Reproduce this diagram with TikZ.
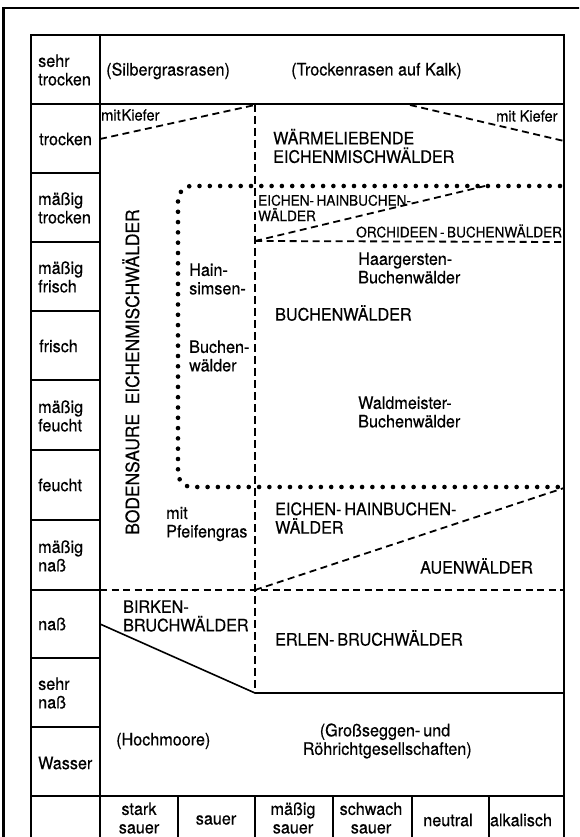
\documentclass[tikz,border=0pt]{standalone}
\usepackage{fontspec}
\setmainfont{TeX Gyre Heros}[FakeStretch=0.94,FakeBold=0.4]
\begin{document}
\begin{tikzpicture}[x=1pt,y=-1pt,
  txt/.style={inner sep=0pt,font=\fontsize{17.2}{18.5}\selectfont,align=left},
  lbl/.style={txt,anchor=west},
  ctr/.style={txt,align=center},
  sml/.style={inner sep=0pt,font=\fontsize{14.5}{15.5}\selectfont,align=left,anchor=west},
  frame/.style={line width=2.8pt},
  grid/.style={line width=1.4pt},
  dsh/.style={line width=1.8pt,dash pattern=on 7pt off 4.5pt},
  vdsh/.style={line width=1.5pt,dash pattern=on 8pt off 4pt},
  dots/.style={line width=4.6pt,line cap=round,dash pattern=on 0pt off 10.3pt,rounded corners=14pt},
  solidline/.style={line width=1.6pt}]
\useasboundingbox (0,0) rectangle (579,837);
\clip (0,0) rectangle (579,837);
\fill[white] (0,0) rectangle (579,837);
% outer frame
\coordinate (F0) at (3.5,8);
\coordinate (F1) at (600,8);
\coordinate (F2) at (3.5,860);
\draw[frame] (F1) -- (F0) -- (F2);
% table grid
\coordinate (T0) at (31,35);
\coordinate (T1) at (564,860);
\draw[grid] (31,860) -- (T0) -- (564,35) -- (T1);
\draw[grid] (100,35) -- (100,860);
\foreach \yy in {173,242,311,380,450,520,590,658,727} \draw[grid] (31,\yy) -- (100,\yy);
\draw[grid] (31,104) -- (564,104);
\draw[grid] (31,796) -- (564,796);
\foreach \xx in {178,255,333,412,489} \draw[grid] (\xx,796) -- (\xx,860);
% interior lines
\coordinate (V0) at (255,104);
\coordinate (V1) at (255,693);
\coordinate (KL0) at (100,139);
\coordinate (KL1) at (255,105);
\coordinate (KR0) at (410,105);
\coordinate (KR1) at (564,141);
\coordinate (O0) at (255,241);
\coordinate (O1) at (564,242);
\coordinate (O2) at (485,186);
\coordinate (N0) at (100,590);
\coordinate (N1) at (564,590);
\coordinate (N2) at (255,590);
\coordinate (A1) at (564,488);
\coordinate (B0) at (100,624);
\coordinate (B2) at (564,693);
\draw[dsh] (KL0) -- (KL1);
\draw[dsh] (KR0) -- (KR1);
\draw[vdsh] (V0) -- (V1);
\draw[dsh] (O0) -- (O1);
\draw[dsh] (O0) -- (O2);
\draw[dsh] (N0) -- (N1);
\draw[dsh] (N2) -- (A1);
\draw[solidline] (B0) -- (V1) -- (B2);
\coordinate (D0) at (560,186);
\coordinate (D1) at (178,186);
\coordinate (D2) at (178,487);
\coordinate (D3) at (560,487);
\draw[dots] (D0) -- (D1) -- (D2) -- (D3);
% left labels
\node[lbl] (r1) at (38,70) {sehr\\trocken};
\node[lbl] (r2) at (39,139) {trocken};
\node[lbl] (r3) at (38,208) {mäßig\\trocken};
\node[lbl] (r4) at (38,277) {mäßig\\frisch};
\node[lbl] (r5) at (39,346) {frisch};
\node[lbl] (r6) at (38,416) {mäßig\\feucht};
\node[lbl] (r7) at (38,485) {feucht};
\node[lbl] (r8) at (38,556) {mäßig\\naß};
\node[lbl] (r9) at (38,624) {naß};
\node[lbl] (r10) at (38,693) {sehr\\naß};
\node[lbl] (r11) at (38,763) {Wasser};
% bottom labels
\node[ctr] (c1) at (139,818) {stark\\sauer};
\node[ctr] (c2) at (216,820) {sauer};
\node[ctr] (c3) at (293,818) {mäßig\\sauer};
\node[ctr] (c4) at (371,818) {schwach\\sauer};
\node[ctr] (c5) at (448,820) {neutral};
\node[ctr] (c6) at (521,820) {alkalisch};
% region labels
\node[lbl] (silber) at (106,71) {(Silbergrasrasen)};
\node[lbl] (trocken) at (291,71) {(Trockenrasen auf Kalk)};
\node[sml,font=\fontsize{15.5}{16}\selectfont] (kl) at (101,115) {mit\hspace{1pt}Kiefer};
\node[sml,font=\fontsize{15.5}{16}\selectfont] (kr) at (496,116) {mit Kiefer};
\node[lbl] (waerme) at (273,146) {WÄRMELIEBENDE\\EICHENMISCHWÄLDER};
\node[sml] (ehb1) at (258,208) {EICHEN-\,HAINBUCHEN-\\WÄLDER};
\node[sml] (orch) at (356,231) {ORCHIDEEN\,-\,BUCHENWÄLDER};
\node[lbl] (haar) at (358,268) {Haargersten-\\Buchenwälder};
\node[lbl] (buchen) at (275,313) {BUCHENWÄLDER};
\node[lbl] (wald) at (358,412) {Waldmeister-\\Buchenwälder};
\node[lbl] (hain) at (189,279) {Hain-\\simsen-};
\node[lbl] (buwa) at (189,356) {Buchen-\\wälder};
\node[txt,rotate=90,font=\fontsize{18.5}{20}\selectfont] (boden) at (131,372) {BODENSAURE\ \ EICHENMISCHWÄLDER};
\node[lbl] (pfeif) at (166,524) {mit\\Pfeifengras};
\node[lbl] (ehb2) at (275,518) {EICHEN-\,HAINBUCHEN-\\WÄLDER};
\node[lbl] (auen) at (420,566) {AUENWÄLDER};
\node[lbl] (birken) at (123,616) {BIRKEN-\\BRUCHWÄLDER};
\node[lbl] (erlen) at (275,638) {ERLEN-\,BRUCHWÄLDER};
\node[lbl] (hoch) at (116,741) {(Hochmoore)};
\node[txt,align=center] (gross) at (385,741) {(Großseggen-\,und\\\ Röhrichtgesellschaften)};
\end{tikzpicture}
\end{document}
